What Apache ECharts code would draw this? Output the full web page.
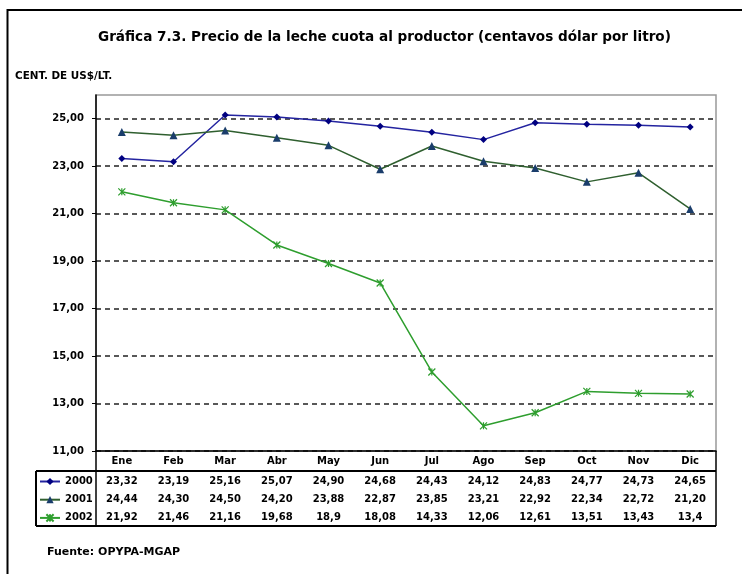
<!DOCTYPE html>
<html>
<head>
<meta charset="utf-8">
<script src="https://cdn.jsdelivr.net/npm/echarts@6/dist/echarts.min.js"></script>
<style>
  html, body { margin: 0; padding: 0; background: #fff; }
  #chart { width: 742px; height: 574px; }
</style>
</head>
<body>
<div id="chart"></div>
<script>
var meses = ['Ene', 'Feb', 'Mar', 'Abr', 'May', 'Jun', 'Jul', 'Ago', 'Sep', 'Oct', 'Nov', 'Dic'];
var anios = ['2000', '2001', '2002'];
var v2000 = ['23,32', '23,19', '25,16', '25,07', '24,90', '24,68', '24,43', '24,12', '24,83', '24,77', '24,73', '24,65'];
var v2001 = ['24,44', '24,30', '24,50', '24,20', '23,88', '22,87', '23,85', '23,21', '22,92', '22,34', '22,72', '21,20'];
var v2002 = ['21,92', '21,46', '21,16', '19,68', '18,9', '18,08', '14,33', '12,06', '12,61', '13,51', '13,43', '13,4'];
var yTicks = [11, 13, 15, 17, 19, 21, 23, 25];

var FONT = '"DejaVu Sans", sans-serif';

function num(s) { return parseFloat(s.replace(',', '.')); }

var chart = echarts.init(document.getElementById('chart'));

var rowLabel = {fontFamily: FONT, fontWeight: 'bold', fontSize: 10, color: '#000'};

// filas de la tabla = ejes de categorias extra
function tablaEje(valores, margen) {
    return {
        type: 'category',
        position: 'bottom',
        data: valores,
        axisLine: {show: false},
        axisTick: {show: false},
        axisLabel: Object.assign({margin: margen, interval: 0}, rowLabel),
        splitLine: {show: false}
    };
}

var option = {
    animation: false,
    title: {
        text: 'Gráfica 7.3. Precio de la leche cuota al productor (centavos dólar por litro)',
        left: 93,
        top: 25,
        textStyle: {fontFamily: FONT, fontWeight: 'bold', fontSize: 13.6, color: '#000'}
    },
    grid: {
        left: 96, right: 26, top: 95, bottom: 123,
        show: true,
        borderColor: '#999',
        borderWidth: 1.5
    },
    legend: {
        orient: 'vertical',
        left: 39,
        top: 476.5,
        padding: 0,
        itemWidth: 20,
        itemHeight: 9,
        itemGap: 8.2,
        textStyle: rowLabel,
        data: anios
    },
    xAxis: [
        {
            type: 'category',
            position: 'bottom',
            data: meses,
            axisLine: {lineStyle: {color: '#000', width: 1.5}},
            axisTick: {show: false},
            axisLabel: Object.assign({margin: 5, interval: 0}, rowLabel)
        },
        tablaEje(v2000, 25),
        tablaEje(v2001, 43),
        tablaEje(v2002, 61)
    ],
    yAxis: {
        type: 'value',
        min: 11,
        max: 26,
        axisLine: {show: true, lineStyle: {color: '#000', width: 1.5}},
        axisTick: {show: true, length: 4, customValues: yTicks, lineStyle: {color: '#000'}},
        axisLabel: {
            customValues: yTicks,
            margin: 12,
            fontFamily: FONT, fontWeight: 'bold', fontSize: 10, color: '#000',
            formatter: function (v) { return v.toFixed(2).replace('.', ','); }
        },
        splitLine: {show: true, lineStyle: {color: '#222', width: 1.5, type: [5, 4]}}
    },
    series: [
        {
            name: '2000',
            type: 'line',
            data: v2000.map(num),
            symbol: 'diamond',
            symbolSize: 7,
            lineStyle: {color: '#2424a0', width: 1.5},
            itemStyle: {color: '#000080'}
        },
        {
            name: '2001',
            type: 'line',
            data: v2001.map(num),
            symbol: 'triangle',
            symbolSize: 8,
            lineStyle: {color: '#2f5f2f', width: 1.5},
            itemStyle: {color: '#1a3d6b'}
        },
        {
            name: '2002',
            type: 'line',
            data: v2002.map(num),
            symbol: 'path://M0,0L10,10M10,0L0,10M5,0L5,10',
            symbolSize: 7,
            lineStyle: {color: '#2e9e2e', width: 1.5},
            itemStyle: {color: '#2e9e2e', borderColor: '#2e9e2e', borderWidth: 1.2}
        }
    ],
    graphic: [
        // marco exterior
        {type: 'rect', shape: {x: 7.5, y: 10, width: 800, height: 700}, style: {fill: null, stroke: '#000', lineWidth: 2}, silent: true},
        {type: 'text', left: 15, top: 71, style: {text: 'CENT. DE US$/LT.', font: 'bold 10.4px "DejaVu Sans"', fill: '#000'}},
        // lineas de la tabla
        {type: 'line', shape: {x1: 96, y1: 451, x2: 96, y2: 526}, style: {stroke: '#000', lineWidth: 1.5}},
        {type: 'line', shape: {x1: 716, y1: 451, x2: 716, y2: 526}, style: {stroke: '#000', lineWidth: 1.5}},
        {type: 'line', shape: {x1: 36, y1: 471, x2: 716, y2: 471}, style: {stroke: '#000', lineWidth: 2}},
        {type: 'line', shape: {x1: 36, y1: 526, x2: 716, y2: 526}, style: {stroke: '#000', lineWidth: 2}},
        {type: 'line', shape: {x1: 36, y1: 471, x2: 36, y2: 526}, style: {stroke: '#000', lineWidth: 2}},
        {type: 'text', left: 47, top: 547, style: {text: 'Fuente: OPYPA-MGAP', font: 'bold 11px "DejaVu Sans"', fill: '#000'}}
    ]
};

chart.setOption(option);
</script>
</body>
</html>
